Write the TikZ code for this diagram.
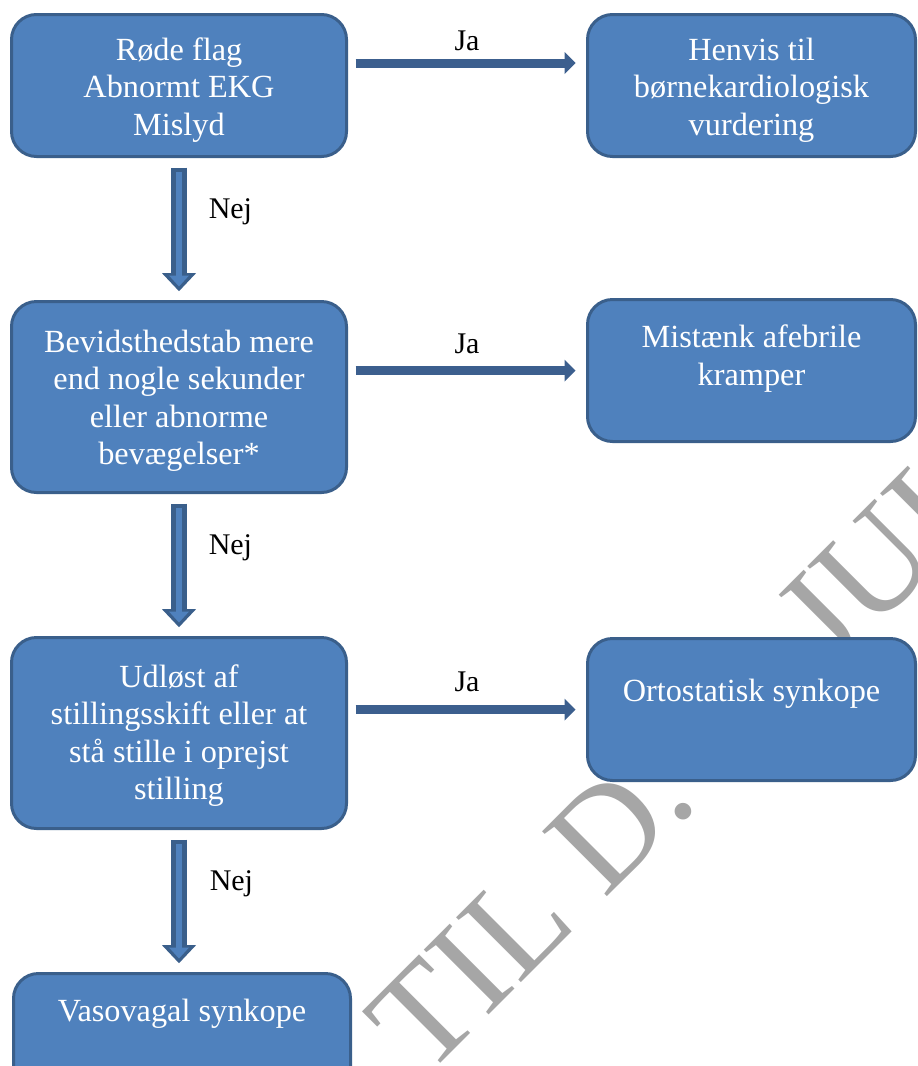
\documentclass[tikz,border=0pt]{standalone}
\usepackage{fontspec}
\setmainfont{Liberation Serif}
\usetikzlibrary{positioning,arrows.meta}

\definecolor{boxfill}{HTML}{4F81BD}
\definecolor{boxline}{HTML}{3A5F8B}
\definecolor{arrowblue}{HTML}{3C5F8E}
\definecolor{wmgray}{HTML}{A6A6A6}

\tikzset{
  flowbox/.style={draw=boxline, fill=boxfill, line width=3pt, rounded corners=25pt,
    minimum width=335pt, minimum height=142pt, inner sep=0pt},
  boxtext/.style={text=white, font=\fontsize{32.3}{37.5}\selectfont, align=center,
    inner sep=0pt, anchor=north},
  answer/.style={font=\fontsize{30}{34}\selectfont, inner sep=0pt},
  jaarrow/.style={draw=arrowblue, line width=9pt,
    -{Triangle[width=22pt,length=11pt,line width=0pt]}, shorten <=7.5pt, shorten >=10.5pt},
  nejouter/.style={draw=boxline, line width=15.5pt,
    -{Triangle[width=34pt,length=18pt,line width=0pt]}, shorten <=9.5pt, shorten >=8.8pt},
  nejinner/.style={draw=boxfill, line width=6pt,
    -{Triangle[width=20pt,length=11pt,line width=0pt]}, shorten <=14pt, shorten >=13.5pt},
  watermark/.style={text=wmgray, font=\fontsize{140}{140}\selectfont, inner sep=0pt,
    anchor=base west, rotate=45},
}

\begin{document}
\begin{tikzpicture}[x=1pt,y=-1pt]
  \useasboundingbox (0,0) rectangle (918,1066);
  \clip (0,0) rectangle (918,1066);

  % >>> watermark
  \node[watermark] (wm) at (604,900) {\llap{GÆLDENDE TIL }D. 1. JULI};
  % <<< watermark

  % >>> boxes
  \node[flowbox] (rf) at (179,85.5) {};
  \node[flowbox, minimum width=328pt] (hv) at (751.5,85.5) {};
  \node[flowbox, minimum height=191pt] (bev) at (179,397) {};
  \node[flowbox, minimum width=328pt] (mis) at (751.5,370.5) {};
  \node[flowbox, minimum height=191pt] (ud) at (179,733) {};
  \node[flowbox, minimum width=328pt] (ort) at (751.5,709.5) {};
  \node[flowbox, minimum width=337pt, minimum height=145pt] (vas) at (182,1046) {};
  % <<< boxes

  % >>> texts
  \node[boxtext, below=24.5pt of rf.north] (rft) {Røde flag\\Abnormt EKG\\Mislyd};
  \node[boxtext, below=24.5pt of hv.north] (hvt) {Henvis til\\børnekardiologisk\\vurdering};
  \node[boxtext, below=29.5pt of bev.north] (bevt) {Bevidsthedstab mere\\end nogle sekunder\\eller abnorme\\bevægelser*};
  \node[boxtext, below=27pt of mis.north] (mist) {Mistænk afebrile\\kramper};
  \node[boxtext, below=28.5pt of ud.north] (udt) {Udløst af\\stillingsskift eller at\\stå stille i oprejst\\stilling};
  \node[boxtext, below=42pt of ort.north] (ortt) {Ortostatisk synkope};
  \node[boxtext, below=27pt of vas.north] (vast) {Vasovagal synkope};
  % <<< texts

  % >>> ja arrows
  \draw[jaarrow] ([yshift=22.5pt]rf.east) -- node[answer, above=8pt] (ja1) {Ja} ([yshift=22.5pt]hv.west);
  \draw[jaarrow] (bev.east |- mis.west) -- node[answer, above=12pt] (ja2) {Ja} (mis.west);
  \draw[jaarrow] (ud.east |- ort.west) -- node[answer, above=13pt] (ja3) {Ja} (ort.west);
  % <<< ja arrows

  % >>> nej arrows
  \draw[nejouter] (rf.south) -- node[answer, pos=.38, right=22pt] (nej1) {Nej} (rf.south |- bev.north);
  \draw[nejinner] (rf.south) -- (rf.south |- bev.north);
  \draw[nejouter] (bev.south) -- node[answer, pos=.38, right=22pt] (nej2) {Nej} (bev.south |- ud.north);
  \draw[nejinner] (bev.south) -- (bev.south |- ud.north);
  \draw[nejouter] (ud.south) -- node[answer, pos=.38, right=23pt] (nej3) {Nej} (ud.south |- vas.north);
  \draw[nejinner] (ud.south) -- (ud.south |- vas.north);
  % <<< nej arrows
\end{tikzpicture}
\end{document}
